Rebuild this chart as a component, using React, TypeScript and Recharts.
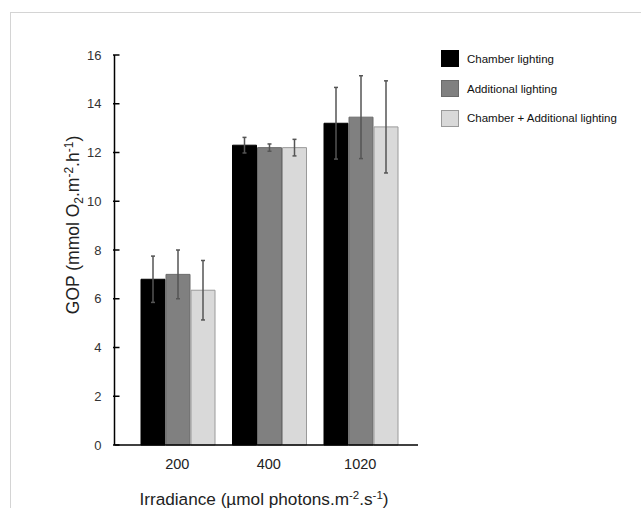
import { BarChart, Bar, XAxis, YAxis, ErrorBar, Legend, Label } from 'recharts';

const categories = ['200', '400', '1020'];
const chamber = [6.8, 12.3, 13.2];
const chamberErr = [0.95, 0.32, 1.47];
const additional = [7.0, 12.2, 13.45];
const additionalErr = [1.0, 0.15, 1.7];
const combined = [6.35, 12.2, 13.05];
const combinedErr = [1.22, 0.34, 1.89];
const yTicks = [0, 2, 4, 6, 8, 10, 12, 14, 16];

const series = [
  { key: 'chamber', err: 'chamberErr', name: 'Chamber lighting', fill: '#000000', stroke: '#000000' },
  { key: 'additional', err: 'additionalErr', name: 'Additional lighting', fill: '#808080', stroke: '#6a6a6a' },
  { key: 'combined', err: 'combinedErr', name: 'Chamber + Additional lighting', fill: '#d9d9d9', stroke: '#9a9a9a' },
];

const data = categories.map((c, i) => ({
  irradiance: c,
  chamber: chamber[i],
  chamberErr: chamberErr[i],
  additional: additional[i],
  additionalErr: additionalErr[i],
  combined: combined[i],
  combinedErr: combinedErr[i],
}));

const FONT = '"Liberation Sans", Arial, sans-serif';

function XTick({ x, y, payload }: any) {
  return (
    <text x={x} y={y + 24} textAnchor="middle" fontSize={14.5} fill="#222" fontFamily={FONT}>
      {payload.value}
    </text>
  );
}

function YTick({ x, y, payload }: any) {
  return (
    <g>
      <line x1={x - 1.5} x2={x + 5} y1={y} y2={y} stroke="#000" strokeWidth={1.5} />
      <text x={x - 13} y={y} dy="0.35em" textAnchor="end" fontSize={13} fill="#333" fontFamily={FONT}>
        {payload.value}
      </text>
    </g>
  );
}

function LegendBox() {
  return (
    <div style={{ fontFamily: FONT, fontSize: 11.5, color: '#111' }}>
      {series.map((s) => (
        <div key={s.key} style={{ display: 'flex', alignItems: 'center', height: 29.7 }}>
          <span
            style={{
              display: 'inline-block',
              width: 16,
              height: 15,
              background: s.fill,
              border: `1px solid ${s.key === 'chamber' ? '#000' : s.stroke}`,
              marginRight: 8,
            }}
          />
          <span>{s.name}</span>
        </div>
      ))}
    </div>
  );
}

export default function App() {
  return (
    <div
      style={{
        position: 'absolute',
        left: 0,
        top: 0,
        width: 641,
        height: 508,
        overflow: 'hidden',
        background: '#fff',
      }}
    >
      <div
        style={{
          position: 'absolute',
          left: 10,
          top: 12,
          width: 700,
          height: 600,
          borderTop: '1.5px solid #d4d4d4',
          borderLeft: '1.5px solid #d4d4d4',
        }}
      />
      <BarChart
        width={641}
        height={508}
        data={data}
        margin={{ top: 55, right: 223, left: 0, bottom: 0 }}
        barCategoryGap={9.5}
        barGap={1}
        style={{ position: 'absolute', left: 0, top: 0 }}
      >
        <XAxis
          dataKey="irradiance"
          height={63}
          padding={{ left: 17, right: 12 }}
          axisLine={{ stroke: '#000', strokeWidth: 1.5 }}
          tickLine={false}
          tickSize={0}
          tickMargin={0}
          tick={<XTick />}
        >
          <Label
            content={() => (
              <text x={264} y={505} textAnchor="middle" fontSize={17.2} fill="#222" fontFamily={FONT}>
                Irradiance (µmol photons.m
                <tspan dy={-6} fontSize={11.5}>-2</tspan>
                <tspan dy={6}>.s</tspan>
                <tspan dy={-6} fontSize={11.5}>-1</tspan>
                <tspan dy={6}>)</tspan>
              </text>
            )}
          />
        </XAxis>
        <YAxis
          width={114.5}
          domain={[0, 16]}
          ticks={yTicks}
          interval={0}
          axisLine={{ stroke: '#000', strokeWidth: 1.5 }}
          tickLine={false}
          tickSize={0}
          tickMargin={0}
          tick={<YTick />}
        >
          <Label
            content={() => (
              <text
                x={0}
                y={0}
                transform="translate(79 225) rotate(-90)"
                textAnchor="middle"
                fontSize={17.5}
                fill="#222"
                fontFamily={FONT}
              >
                GOP (mmol O
                <tspan dy={4} fontSize={12}>2</tspan>
                <tspan dy={-4}>.m</tspan>
                <tspan dy={-6} fontSize={12}>-2</tspan>
                <tspan dy={6}>.h</tspan>
                <tspan dy={-6} fontSize={12}>-1</tspan>
                <tspan dy={6}>)</tspan>
              </text>
            )}
          />
        </YAxis>
        <Legend
          layout="vertical"
          align="center"
          verticalAlign="middle"
          wrapperStyle={{ position: 'absolute', left: 441, top: 44, width: 200 }}
          content={<LegendBox />}
        />
        {series.map((s) => (
          <Bar
            key={s.key}
            dataKey={s.key}
            name={s.name}
            fill={s.fill}
            stroke={s.stroke}
            strokeWidth={1}
            isAnimationActive={false}
          >
            <ErrorBar dataKey={s.err} width={2} stroke="#555" strokeWidth={1.5} direction="y" />
          </Bar>
        ))}
      </BarChart>
    </div>
  );
}
